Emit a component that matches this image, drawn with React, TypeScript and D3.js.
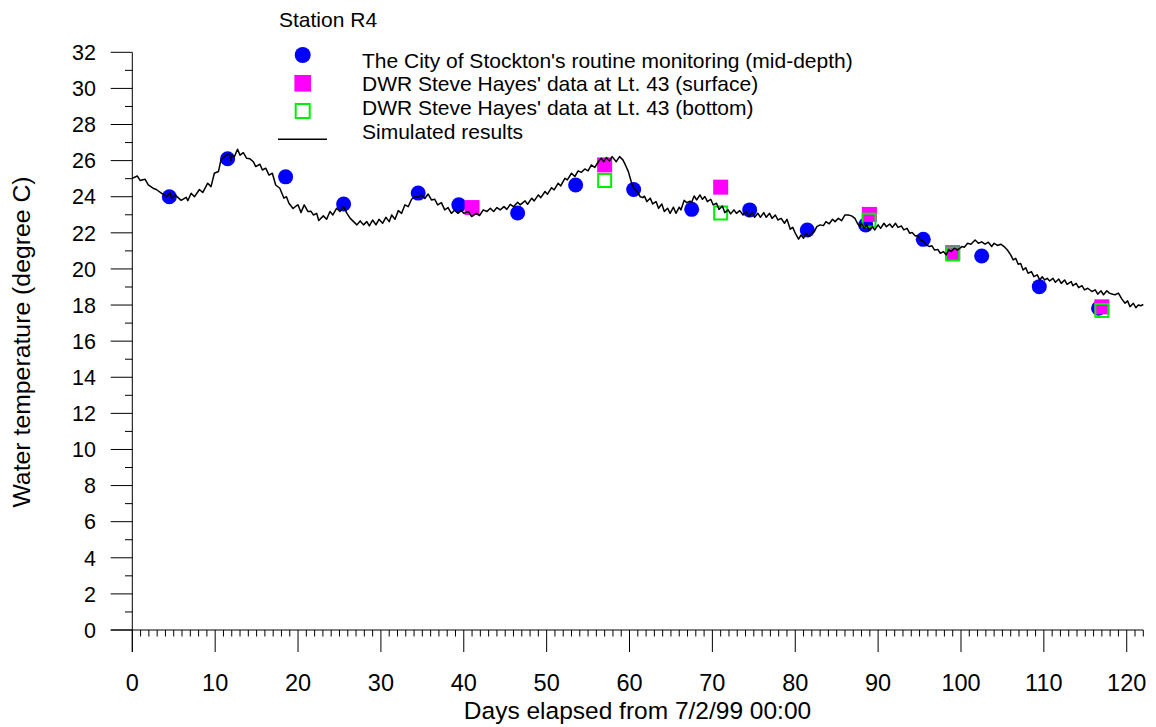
import React from "react";
import * as d3 from "d3";

const stocktonDay = [4.47, 11.5, 18.5, 25.5, 34.5, 39.4, 46.5, 53.5, 60.5, 67.5, 74.5, 81.45, 88.5, 95.45, 102.5, 109.45, 116.6];
const stocktonTemp = [24.0, 26.1, 25.1, 23.6, 24.2, 23.55, 23.1, 24.65, 24.4, 23.3, 23.27, 22.16, 22.44, 21.64, 20.72, 19.02, 17.82];

const surfaceDay = [41.0, 57.0, 71.0, 88.95, 99.0, 117.0];
const surfaceTemp = [23.4, 25.76, 24.53, 23.02, 20.9, 17.9];

const bottomDay = [57.0, 71.0, 88.9, 99.0, 117.0];
const bottomTemp = [24.9, 23.1, 22.7, 20.83, 17.7];

const simDay = [
  0, 0.6, 0.93, 1.53, 1.93, 2.5, 2.9, 3.55, 4.15, 4.55, 4.75, 5.15, 5.9, 6.5, 6.7, 7.1, 7.5, 8.1, 8.5, 9.1,
  9.5, 9.9, 10.4, 10.7, 11.1, 11.7, 11.9, 12.0, 12.3, 12.7, 13.0, 13.4, 13.8, 14.2, 14.6, 14.9, 15.4, 15.7, 16.1, 16.5,
  16.9, 17.3, 17.8, 18.3, 18.6, 18.9, 19.4, 19.8, 20.0, 20.35, 20.75, 21.2, 21.55, 21.85, 22.25, 22.5, 23.05, 23.45, 23.85, 24.2,
  24.65, 25.06, 25.5, 25.9, 26.3, 26.7, 27.1, 27.5, 27.9, 28.3, 28.6, 29.0, 29.4, 29.77, 30.2, 30.6, 31.0, 31.3, 31.7, 32.1,
  32.5, 32.9, 33.3, 33.7, 34.1, 34.5, 34.9, 35.3, 35.7, 36.1, 36.5, 36.85, 37.3, 37.7, 38.1, 38.5, 38.9, 39.3, 39.7, 40.0,
  40.55, 40.95, 41.5, 41.9, 42.35, 42.8, 43.2, 43.6, 44.0, 44.4, 44.85, 45.2, 45.6, 46.0, 46.5, 46.8, 47.4, 47.7, 48.2, 48.5,
  49.0, 49.3, 49.8, 50.1, 50.6, 50.9, 51.4, 51.7, 52.2, 52.5, 53.0, 53.4, 53.8, 54.2, 54.6, 55.0, 55.4, 55.8, 56.3, 56.6,
  56.9, 57.2, 57.6, 57.9, 58.4, 58.8, 59.2, 59.5, 59.86, 60.2, 60.5, 60.9, 61.3, 61.6, 61.8, 62.1, 62.5, 62.8, 63.2, 63.5,
  63.9, 64.2, 64.6, 64.9, 65.3, 65.6, 66.0, 66.2, 66.6, 66.9, 67.3, 67.5, 67.8, 68.1, 68.5, 68.8, 69.1, 69.4, 69.8, 70.1,
  70.5, 70.8, 71.2, 71.5, 71.9, 72.2, 72.6, 72.9, 73.3, 73.7, 74.1, 74.4, 74.8, 75.1, 75.5, 75.8, 76.2, 76.5, 76.9, 77.2,
  77.6, 77.9, 78.3, 78.7, 79.0, 79.4, 79.7, 80.0, 80.4, 80.7, 81.0, 81.3, 81.6, 82.0, 82.3, 82.6, 83.0, 83.4, 83.7, 84.1,
  84.5, 84.8, 85.2, 85.6, 86.0, 86.4, 86.8, 87.2, 87.5, 87.8, 88.0, 88.3, 88.6, 88.9, 89.3, 89.6, 90.0, 90.3, 90.7, 91.0,
  91.4, 91.7, 92.1, 92.4, 92.8, 93.1, 93.5, 93.8, 94.1, 94.5, 94.8, 95.1, 95.5, 95.8, 96.2, 96.5, 96.8, 97.2, 97.5, 97.9,
  98.2, 98.5, 98.8, 99.2, 99.6, 100.1, 100.4, 100.8, 101.2, 101.7, 102.1, 102.5, 102.9, 103.3, 103.7, 104.0, 104.4, 104.8, 105.2, 105.6,
  106.0, 106.3, 106.6, 106.9, 107.2, 107.5, 107.8, 108.1, 108.5, 108.8, 109.2, 109.5, 109.8, 110.1, 110.4, 110.7, 111.1, 111.4, 111.8, 112.1,
  112.5, 112.8, 113.3, 113.5, 113.9, 114.2, 114.6, 114.9, 115.3, 115.8, 116.2, 116.5, 116.9, 117.2, 117.6, 117.9, 118.3, 118.6, 119.0, 119.4,
  119.8, 120.1, 120.4, 120.8, 121.1, 121.4, 121.7, 122.0,
];
const simTemp = [
  25.02, 25.15, 24.9, 24.97, 24.65, 24.47, 24.4, 24.19, 24.0, 24.23, 23.9, 24.1, 23.8, 23.97, 23.78, 24.19, 24.0, 24.4, 24.23, 24.75,
  24.56, 25.3, 25.4, 26.04, 26.22, 26.41, 26.0, 26.3, 26.2, 26.63, 26.3, 26.44, 26.13, 26.1, 25.94, 25.67, 25.8, 25.48, 25.58, 25.2,
  25.3, 24.65, 24.47, 23.92, 24.0, 23.64, 23.35, 23.5, 23.55, 23.12, 23.55, 23.18, 23.2, 22.99, 23.08, 22.68, 22.94, 22.75, 23.18, 22.99,
  23.36, 23.18, 23.45, 23.08, 22.8, 22.62, 22.44, 22.66, 22.44, 22.62, 22.38, 22.71, 22.44, 22.75, 22.53, 22.86, 22.62, 22.99, 22.75, 23.23,
  23.08, 23.55, 23.45, 23.86, 24.0, 23.97, 24.1, 23.9, 24.15, 23.82, 23.86, 23.55, 23.67, 23.27, 23.4, 23.08, 23.25, 23.08, 23.25, 23.08,
  23.18, 22.9, 23.08, 22.96, 23.27, 23.18, 23.36, 23.18, 23.4, 23.27, 23.45, 23.3, 23.58, 23.45, 23.69, 23.55, 23.77, 23.58, 23.92, 23.77,
  24.1, 23.95, 24.29, 24.14, 24.5, 24.38, 24.75, 24.6, 25.02, 24.93, 25.3, 25.12, 25.43, 25.35, 25.54, 25.43, 25.76, 25.62, 25.98, 26.13,
  25.94, 26.17, 25.98, 26.22, 25.94, 26.22, 26.04, 25.76, 25.39, 24.84, 24.47, 24.29, 24.0, 23.95, 24.03, 23.73, 23.92, 23.6, 23.73, 23.36,
  23.6, 23.18, 23.36, 23.08, 23.42, 23.08, 23.42, 23.27, 23.8, 23.67, 23.75, 23.69, 24.04, 23.82, 24.1, 23.86, 24.01, 23.73, 23.86, 23.55,
  23.64, 23.3, 23.49, 23.12, 23.27, 23.05, 23.27, 23.08, 23.23, 22.99, 23.18, 22.9, 23.12, 22.86, 23.08, 22.86, 23.12, 22.86, 23.08, 22.8,
  22.99, 22.71, 22.8, 22.53, 22.75, 22.2, 22.3, 21.98, 21.65, 21.88, 21.7, 21.98, 21.8, 21.98, 22.07, 22.34, 22.44, 22.4, 22.62, 22.5,
  22.75, 22.62, 22.8, 22.67, 22.99, 22.99, 22.94, 22.8, 22.53, 22.34, 22.53, 22.25, 22.44, 22.16, 22.34, 22.16, 22.44, 22.25, 22.53, 22.34,
  22.49, 22.3, 22.53, 22.3, 22.38, 22.16, 22.25, 21.98, 22.02, 21.83, 21.85, 21.6, 21.52, 21.33, 21.24, 21.28, 21.05, 21.08, 20.87, 20.96,
  20.78, 21.05, 20.96, 21.15, 21.05, 21.24, 21.2, 21.42, 21.37, 21.6, 21.42, 21.5, 21.37, 21.48, 21.24, 21.42, 21.3, 21.37, 21.24, 21.05,
  20.78, 20.5, 20.59, 20.26, 20.3, 19.94, 20.07, 19.76, 19.85, 19.57, 19.67, 19.39, 19.57, 19.39, 19.48, 19.33, 19.48, 19.26, 19.44, 19.2,
  19.39, 19.15, 19.3, 19.07, 19.2, 18.96, 19.07, 18.84, 18.93, 18.75, 18.84, 18.6, 18.79, 18.57, 18.79, 18.66, 18.6, 18.57, 18.66, 18.34,
  18.1, 18.23, 17.91, 18.1, 17.85, 18.0, 17.96, 18.03,
];

const xMajorTicks = [0, 10, 20, 30, 40, 50, 60, 70, 80, 90, 100, 110, 120];
const yMajorTicks = [0, 2, 4, 6, 8, 10, 12, 14, 16, 18, 20, 22, 24, 26, 28, 30, 32];

const legendLabels = [
  "The City of Stockton's routine monitoring (mid-depth)",
  "DWR Steve Hayes' data at Lt. 43 (surface)",
  "DWR Steve Hayes' data at Lt. 43 (bottom)",
  "Simulated results",
];

const FONT = "'Liberation Sans', Arial, Helvetica, sans-serif";

export default function App() {
  const W = 1156;
  const H = 727;
  const x = d3.scaleLinear().domain([0, 122]).range([132.3, 1143.3]);
  const y = d3.scaleLinear().domain([0, 32]).range([630, 52.3]);

  const xMinor = d3.range(0, 123, 1).filter((v) => v % 10 !== 0);
  const yMinor = d3.range(1, 32, 2);

  const simPts: [number, number][] = simDay.map((d, i) => [d, simTemp[i]]);
  const line = d3
    .line<[number, number]>()
    .x((d) => x(d[0]))
    .y((d) => y(d[1]));

  const sq = 15;
  const axisColor = "#000";

  return (
    <svg
      width={W}
      height={H}
      style={{ position: "absolute", left: 0, top: 0, background: "#fff" }}
      fontFamily={FONT}
    >
      <rect x={0} y={0} width={W} height={H} fill="#fff" />
      {/* Y axis */}
      <line x1={x(0)} x2={x(0)} y1={y(32)} y2={652} stroke={axisColor} strokeWidth={1} />
      {yMajorTicks.map((t) => (
        <g key={"ym" + t}>
          <line x1={110.7} x2={x(0)} y1={y(t)} y2={y(t)} stroke={axisColor} strokeWidth={1} />
          <text x={96} y={y(t)} dy="0.36em" textAnchor="end" fontSize={21.5} fill="#000">
            {t}
          </text>
        </g>
      ))}
      {yMinor.map((t) => (
        <line key={"yn" + t} x1={125} x2={x(0)} y1={y(t)} y2={y(t)} stroke={axisColor} strokeWidth={1} />
      ))}
      {/* X axis */}
      <line x1={110.7} x2={x(122)} y1={y(0)} y2={y(0)} stroke={axisColor} strokeWidth={1} />
      {xMajorTicks.map((t) => (
        <g key={"xm" + t}>
          <line x1={x(t)} x2={x(t)} y1={y(0)} y2={652} stroke={axisColor} strokeWidth={1} />
          <text x={x(t)} y={690.5} textAnchor="middle" fontSize={23.5} fill="#000">
            {t}
          </text>
        </g>
      ))}
      {xMinor.map((t) => (
        <line key={"xn" + t} x1={x(t)} x2={x(t)} y1={y(0)} y2={636.5} stroke={axisColor} strokeWidth={1} />
      ))}
      <text x={637.5} y={719} textAnchor="middle" fontSize={24.5} fill="#000">
        Days elapsed from 7/2/99 00:00
      </text>
      <text
        transform={`translate(30,342) rotate(-90)`}
        textAnchor="middle"
        fontSize={24.8}
        fill="#000"
      >
        Water temperature (degree C)
      </text>

      {/* Data markers */}
      {stocktonDay.map((d, i) => (
        <circle key={"c" + i} cx={x(d)} cy={y(stocktonTemp[i])} r={7.5} fill="#0000ff" />
      ))}
      {surfaceDay.map((d, i) => (
        <rect
          key={"s" + i}
          x={x(d) - sq / 2}
          y={y(surfaceTemp[i]) - sq / 2}
          width={sq}
          height={sq}
          fill="#ff00ff"
        />
      ))}
      {bottomDay.map((d, i) => (
        <rect
          key={"b" + i}
          x={x(d) - (sq - 2) / 2}
          y={y(bottomTemp[i]) - (sq - 2) / 2}
          width={sq - 2}
          height={sq - 2}
          fill="none"
          stroke="#00ee00"
          strokeWidth={2}
        />
      ))}
      <path d={line(simPts) || ""} fill="none" stroke="#000" strokeWidth={1.5} strokeLinejoin="round" />

      {/* Legend */}
      <text x={279} y={27} fontSize={21} fill="#000">
        Station R4
      </text>
      <circle cx={302.7} cy={55} r={8} fill="#0000ff" />
      <rect x={302.7 - 8.3} y={83.3 - 8.3} width={16.6} height={16.6} fill="#ff00ff" />
      <rect x={302.7 - 7} y={111 - 7} width={14} height={14} fill="none" stroke="#00ee00" strokeWidth={2} />
      <line x1={278} x2={327} y1={139.3} y2={139.3} stroke="#000" strokeWidth={1.5} />
      {legendLabels.map((l, i) => (
        <text key={"l" + i} x={362} y={67.5 + i * 23.8} fontSize={21} fill="#000">
          {l}
        </text>
      ))}
    </svg>
  );
}
